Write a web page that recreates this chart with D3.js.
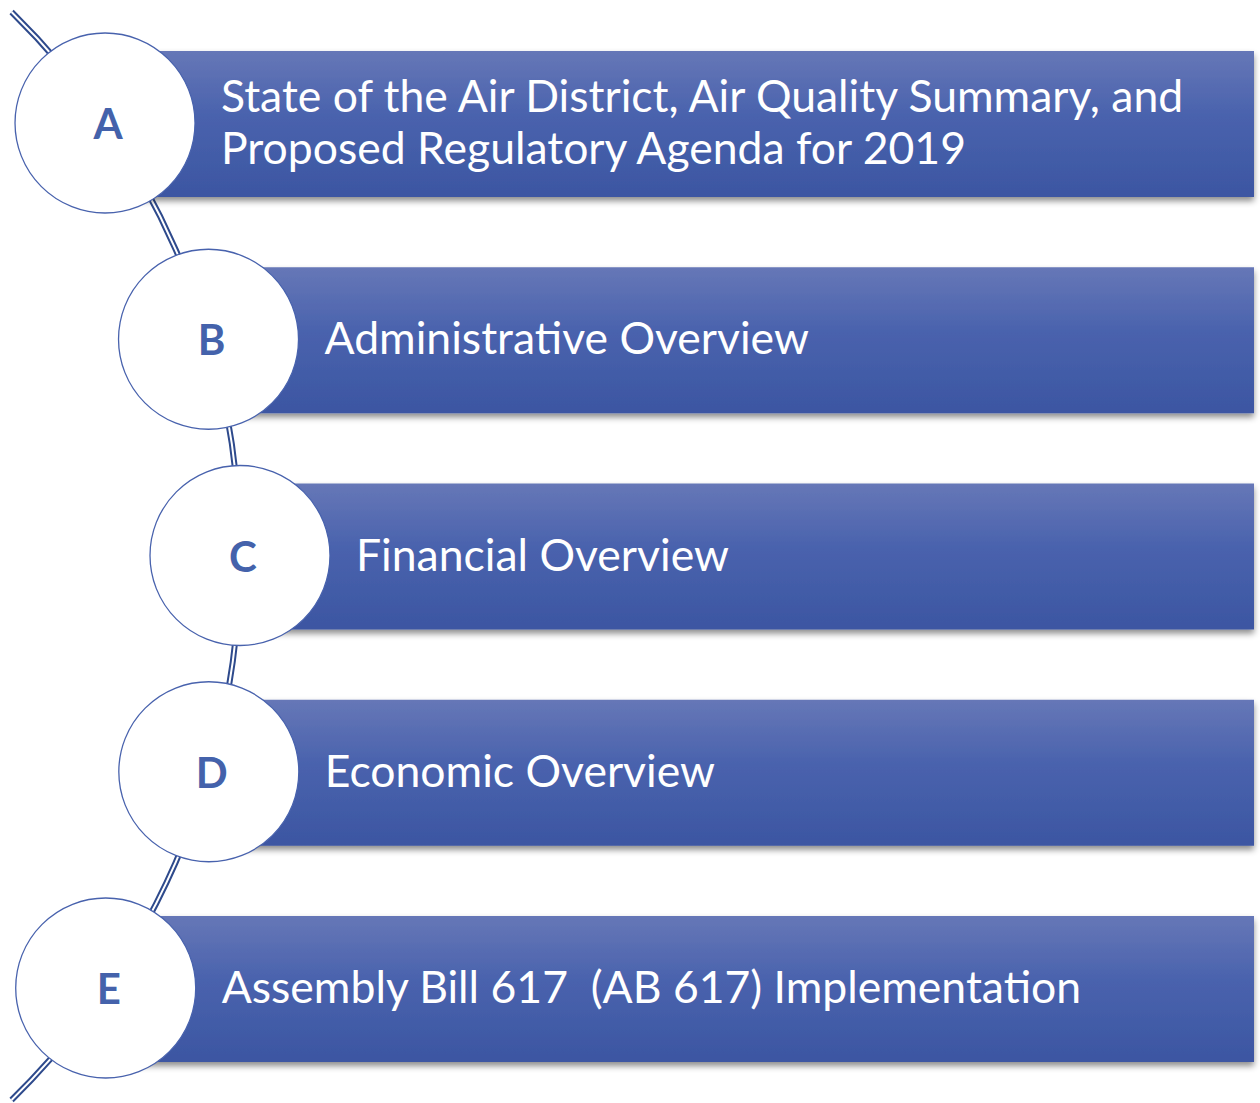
<!DOCTYPE html>
<html>
<head>
<meta charset="utf-8">
<script src="https://cdn.jsdelivr.net/npm/d3@7"></script>
<style>
  body { margin: 0; background: #fff; }
  svg { display: block; }
</style>
</head>
<body>
<svg width="1260" height="1103"></svg>
<script>
// agenda items
var letters = ['A', 'B', 'C', 'D', 'E'];
var labels = [
  ['State of the Air District, Air Quality Summary, and', 'Proposed Regulatory Agenda for 2019'],
  ['Administrative Overview'],
  ['Financial Overview'],
  ['Economic Overview'],
  ['Assembly Bill 617  (AB 617) Implementation']
];

var svg = d3.select('svg'),
  width = +svg.attr('width'),
  height = +svg.attr('height');

var defs = svg.append('defs');

// bar gradient
var grad = defs.append('linearGradient')
  .attr('id', 'barGrad')
  .attr('x1', 0).attr('y1', 0).attr('x2', 0).attr('y2', 1);
grad.append('stop').attr('offset', '0%').attr('stop-color', '#6677b7');
grad.append('stop').attr('offset', '45%').attr('stop-color', '#4962ad');
grad.append('stop').attr('offset', '100%').attr('stop-color', '#3c56a2');

var shadow = defs.append('filter')
  .attr('id', 'shadow')
  .attr('x', '-5%').attr('y', '-10%').attr('width', '110%').attr('height', '130%');
shadow.append('feDropShadow')
  .attr('dx', 0).attr('dy', 4)
  .attr('stdDeviation', 3)
  .attr('flood-color', '#000')
  .attr('flood-opacity', 0.45);

// vertical positions of the items
var y = d3.scalePoint().domain(letters).range([123, 988]);

// the big arc the circles sit on
var arcCx = -522, arcCy = 556, arcR = 762;
function arcX(yy) {
  return arcCx + Math.sqrt(arcR * arcR - (yy - arcCy) * (yy - arcCy));
}

var r = 90,
  barRight = 1254,
  barTop = -72,
  barH = 146;

// connecting double line
var a0 = Math.asin((12 - arcCy) / arcR),
  a1 = Math.asin((1100 - arcCy) / arcR);
var arcGen = d3.arc()
  .innerRadius(arcR)
  .outerRadius(arcR)
  .startAngle(Math.PI / 2 + a0)
  .endAngle(Math.PI / 2 + a1);
var line = svg.append('g').attr('transform', 'translate(' + arcCx + ',' + arcCy + ')');
line.append('path').attr('d', arcGen()).attr('fill', 'none')
  .attr('stroke', '#2e4a8c').attr('stroke-width', 6);
line.append('path').attr('d', arcGen()).attr('fill', 'none')
  .attr('stroke', '#fff').attr('stroke-width', 2);

var item = svg.selectAll('.item')
  .data(letters)
  .enter()
  .append('g')
  .attr('class', 'item')
  .attr('transform', function(d) {
    return 'translate(' + arcX(y(d)) + ',' + y(d) + ')';
  });

item.append('rect')
  .attr('x', 0)
  .attr('y', barTop)
  .attr('width', function(d) { return barRight - arcX(y(d)); })
  .attr('height', barH)
  .attr('fill', 'url(#barGrad)')
  .attr('filter', 'url(#shadow)');

item.append('circle')
  .attr('r', r)
  .attr('fill', '#fff')
  .attr('stroke', '#4862ad')
  .attr('stroke-width', 1.3);

item.append('text')
  .attr('x', 3)
  .attr('y', 16)
  .attr('text-anchor', 'middle')
  .attr('font-family', 'Lato, "Open Sans", sans-serif')
  .attr('font-weight', 'bold')
  .attr('font-size', '42px')
  .attr('fill', '#4462ab')
  .text(function(d) { return d; });

item.append('text')
  .attr('x', 116)
  .attr('font-family', 'Lato, "Open Sans", sans-serif')
  .attr('font-size', '44.5px')
  .attr('fill', '#fff')
  .style('white-space', 'pre')
  .each(function(d, i) {
    var lines = labels[i];
    var t = d3.select(this);
    var lh = 52;
    var y0 = 15 - (lines.length - 1) * lh / 2;
    lines.forEach(function(l, j) {
      t.append('tspan').attr('x', 116).attr('y', y0 + j * lh).text(l);
    });
  });
</script>
</body>
</html>
